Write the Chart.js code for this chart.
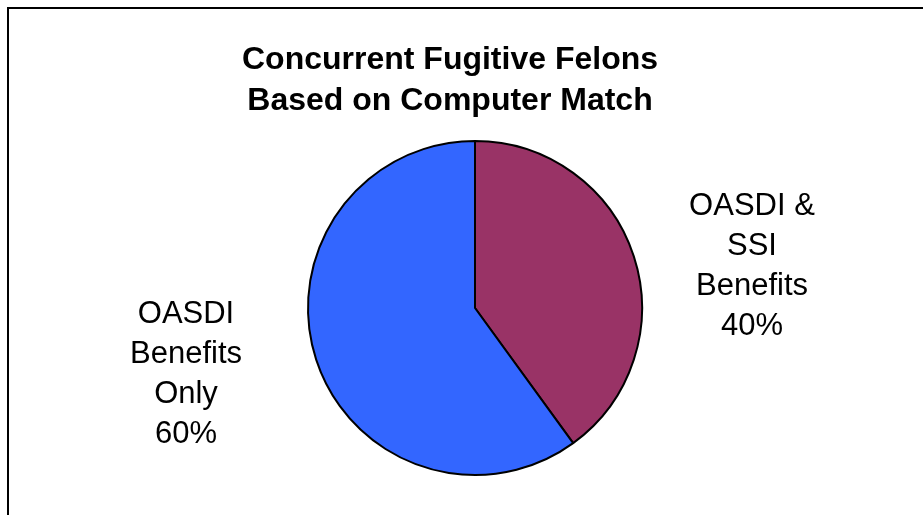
<!DOCTYPE html>
<html lang="en">
<head>
  <meta charset="UTF-8" />
  <title>Concurrent Fugitive Felons</title>
  <script src="https://cdn.jsdelivr.net/npm/chart.js"></script>
  <style>
    html, body { margin: 0; padding: 0; background: #fff; overflow: hidden; }
    .wrap { position: relative; width: 923px; height: 515px; }
    .frame {
      position: absolute; left: 7px; top: 7px; width: 1000px; height: 600px;
      border-left: 2px solid #000; border-top: 2px solid #000;
    }
    canvas { position: absolute; left: 0; top: 0; }
  </style>
</head>
<body>
  <div class="wrap">
    <div class="frame"></div>
    <canvas id="pieChart" width="923" height="515"></canvas>
  </div>

  <script>
    // données
    const titleLines = ["Concurrent Fugitive Felons", "Based on Computer Match"];
    const categories = [["OASDI &", "SSI", "Benefits"], ["OASDI", "Benefits", "Only"]];
    const values = [40, 60];
    const sliceColors = ["#993366", "#3366FF"];

    // position des étiquettes par rapport au centre du camembert
    const labelOffsets = [{ dx: 277, dy: -42 }, { dx: -289, dy: 66 }];

    const textPlugin = {
      id: "textPlugin",
      afterDraw(chart) {
        const ctx = chart.ctx;
        const meta = chart.getDatasetMeta(0);
        const total = values.reduce((a, b) => a + b, 0);
        ctx.save();
        ctx.fillStyle = "#000";
        ctx.textAlign = "center";
        ctx.textBaseline = "middle";

        // titre
        ctx.font = "bold 32px 'Liberation Sans', Arial, sans-serif";
        titleLines.forEach((line, i) => ctx.fillText(line, 450, 60 + i * 41.5));

        // étiquettes des parts
        ctx.font = "31px 'Liberation Sans', Arial, sans-serif";
        meta.data.forEach((arc, i) => {
          const lines = categories[i].concat([Math.round(values[i] / total * 100) + "%"]);
          const cx = arc.x + labelOffsets[i].dx;
          const cy = arc.y + labelOffsets[i].dy;
          const lh = 40;
          const top = cy - (lines.length - 1) * lh / 2;
          lines.forEach((line, j) => ctx.fillText(line, cx, top + j * lh));
        });
        ctx.restore();
      }
    };

    new Chart(document.getElementById("pieChart").getContext("2d"), {
      type: "pie",
      data: {
        labels: categories,
        datasets: [{
          data: values,
          backgroundColor: sliceColors,
          borderColor: "#000",
          borderWidth: 2,
          radius: 167
        }]
      },
      options: {
        responsive: false,
        animation: false,
        layout: { padding: { left: 27, right: 0, top: 101, bottom: 0 } },
        plugins: {
          legend: { display: false },
          title: { display: false },
          tooltip: { enabled: false }
        }
      },
      plugins: [textPlugin]
    });
  </script>
</body>
</html>
